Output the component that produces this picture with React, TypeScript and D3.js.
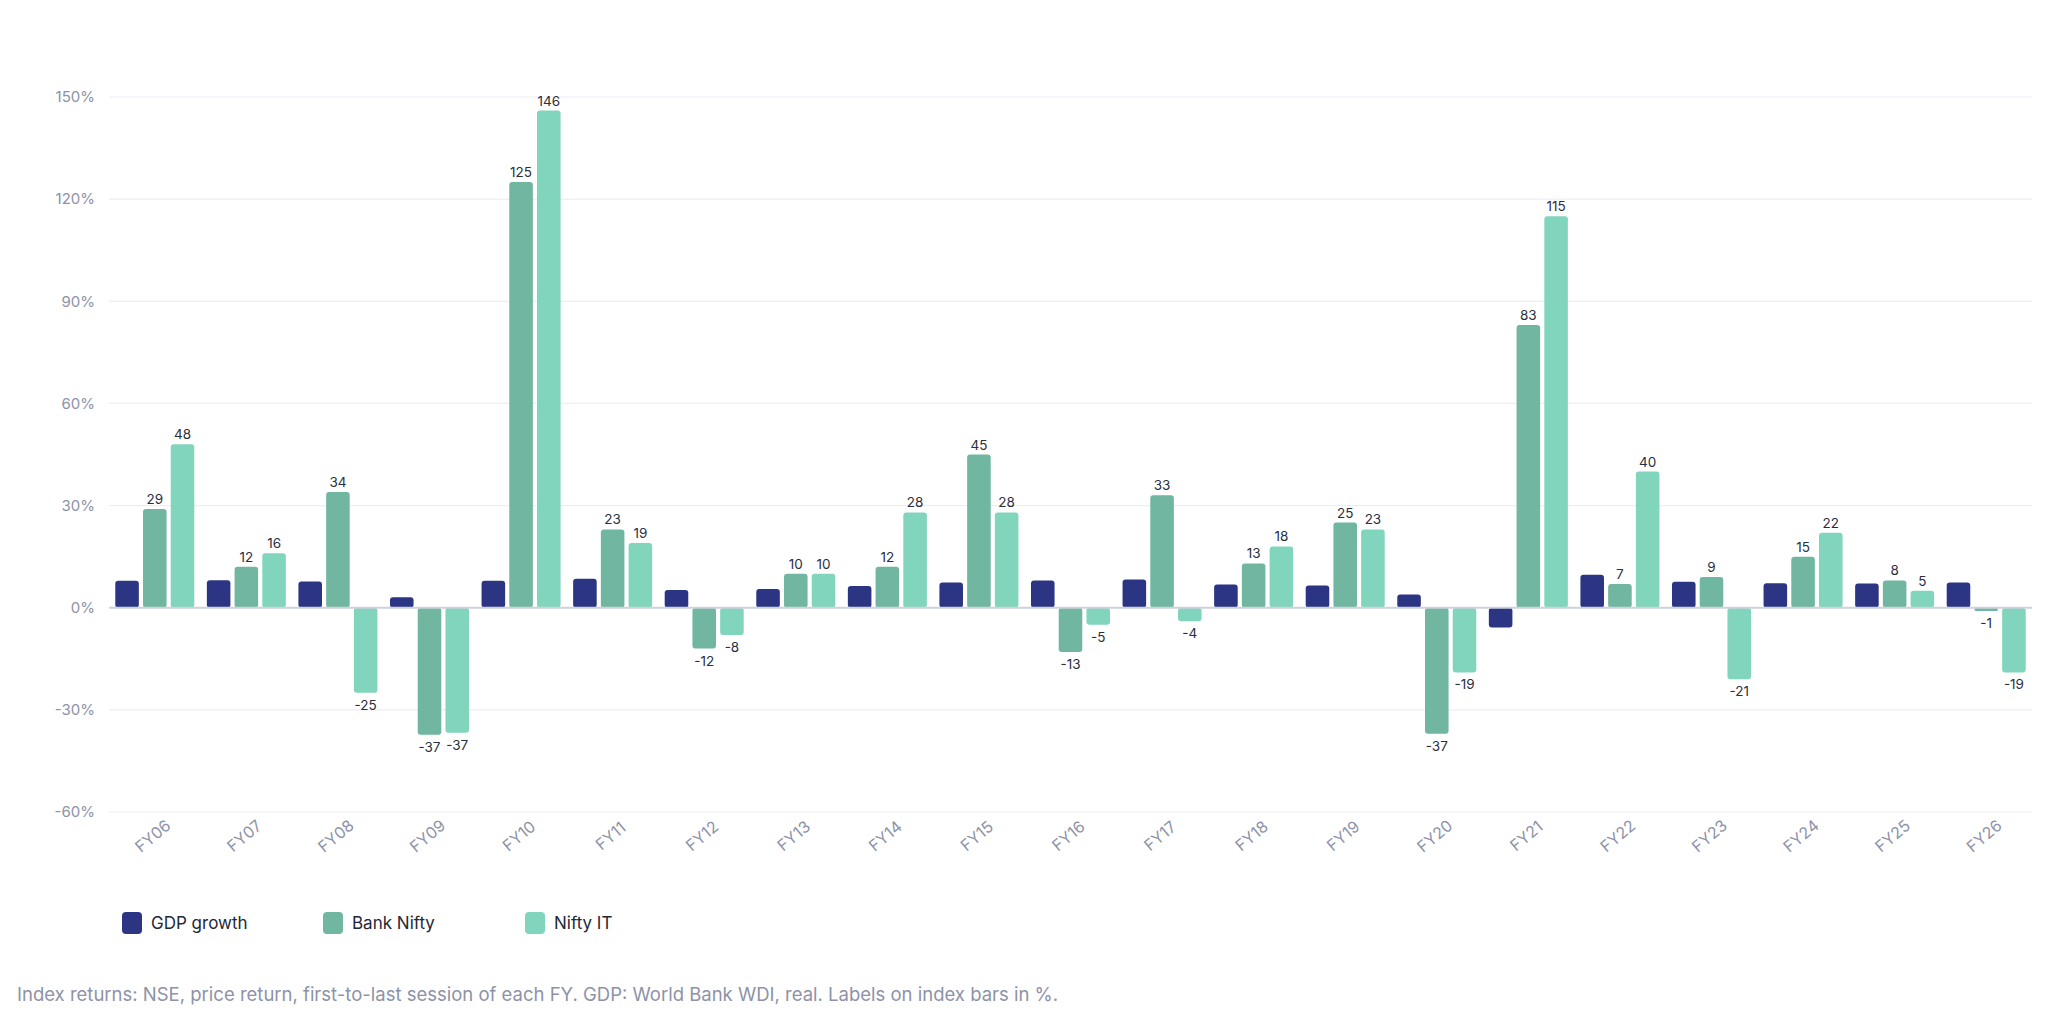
import React, { useRef, useEffect } from "react";
import * as d3 from "d3";

const years = [
  "FY06", "FY07", "FY08", "FY09", "FY10", "FY11", "FY12", "FY13", "FY14", "FY15", "FY16",
  "FY17", "FY18", "FY19", "FY20", "FY21", "FY22", "FY23", "FY24", "FY25", "FY26",
];
const gdpGrowth = [7.9, 8.1, 7.7, 3.1, 7.9, 8.5, 5.2, 5.5, 6.4, 7.4, 8.0, 8.3, 6.8, 6.5, 3.9, -5.8, 9.7, 7.6, 7.2, 7.1, 7.4];
const bankNifty = [29, 12, 34, -37.3, 125, 23, -12, 10, 12, 45, -13, 33, 13, 25, -37, 83, 7, 9, 15, 8, -1];
const niftyIT = [48, 16, -25, -36.7, 146, 19, -8, 10, 28, 28, -5, -4, 18, 23, -19, 115, 40, -21, 22, 5, -19];
const seriesNames = ["GDP growth", "Bank Nifty", "Nifty IT"];
const seriesColors = ["#2c3584", "#70b6a1", "#81d5bd"];
const yTicks = [-60, -30, 0, 30, 60, 90, 120, 150];
const note =
  "Index returns: NSE, price return, first-to-last session of each FY. GDP: World Bank WDI, real. Labels on index bars in %.";

const W = 2048;
const H = 1014;
const FONT = "Inter, 'Noto Sans', sans-serif";

const App = () => {
  const ref = useRef(null);

  useEffect(() => {
    const svg = d3.select(ref.current);
    svg.selectAll("*").remove();

    const left = 109;
    const right = 2032;
    const y = d3.scaleLinear().domain([-60, 150]).range([812, 97]);
    const x0 = d3.scaleBand().domain(years).range([left, right]).paddingInner(0.137).paddingOuter(0.0685);
    const x1 = d3.scaleBand().domain(seriesNames).range([0, x0.bandwidth()]).paddingInner(0.15);

    // grid
    svg
      .append("g")
      .selectAll("line")
      .data(yTicks.filter((t) => t !== 0))
      .join("line")
      .attr("x1", left)
      .attr("x2", right)
      .attr("y1", (d) => y(d))
      .attr("y2", (d) => y(d))
      .attr("stroke", "#eceef3")
      .attr("stroke-width", 1.2);

    svg
      .append("g")
      .selectAll("text")
      .data(yTicks)
      .join("text")
      .attr("x", 95)
      .attr("y", (d) => y(d))
      .attr("dy", "0.35em")
      .attr("text-anchor", "end")
      .attr("font-family", FONT)
      .attr("font-size", 15)
      .attr("fill", "#8d92a8")
      .text((d) => `${d}%`);

    const rows = years.map((yr, i) => ({
      yr,
      vals: [gdpGrowth[i], bankNifty[i], niftyIT[i]],
    }));

    const groups = svg
      .append("g")
      .selectAll("g")
      .data(rows)
      .join("g")
      .attr("transform", (d) => `translate(${x0(d.yr)},0)`);

    groups
      .selectAll("rect")
      .data((d) => d.vals.map((v, k) => ({ v, k })))
      .join("rect")
      .attr("x", (d) => x1(seriesNames[d.k]))
      .attr("width", x1.bandwidth())
      .attr("y", (d) => y(Math.max(0, d.v)))
      .attr("height", (d) => Math.abs(y(d.v) - y(0)))
      .attr("rx", 3)
      .attr("fill", (d) => seriesColors[d.k]);

    groups
      .selectAll("text")
      .data((d) => d.vals.map((v, k) => ({ v, k })).filter((d) => d.k > 0))
      .join("text")
      .attr("x", (d) => x1(seriesNames[d.k]) + x1.bandwidth() / 2)
      .attr("y", (d) => (d.v >= 0 ? y(d.v) - 5 : y(d.v) + 17))
      .attr("text-anchor", "middle")
      .attr("font-family", FONT)
      .attr("font-size", 13.5)
      .attr("fill", "#2a2f3d")
      .text((d) => Math.round(d.v));

    // zero line
    svg
      .append("line")
      .attr("x1", left)
      .attr("x2", right)
      .attr("y1", y(0))
      .attr("y2", y(0))
      .attr("stroke", "#cfd2dd")
      .attr("stroke-width", 2);

    // x labels
    svg
      .append("g")
      .selectAll("text")
      .data(years)
      .join("text")
      .attr(
        "transform",
        (d) => `translate(${x0(d) + x0.bandwidth() / 2 - 2},836) rotate(-40)`
      )
      .attr("text-anchor", "middle")
      .attr("dy", "0.35em")
      .attr("font-family", FONT)
      .attr("font-size", 16)
      .attr("fill", "#8d92a8")
      .text((d) => d);

    // legend
    const legendX = [122, 323, 525];
    const legend = svg
      .append("g")
      .selectAll("g")
      .data(seriesNames)
      .join("g")
      .attr("transform", (d, i) => `translate(${legendX[i]},912)`);
    legend
      .append("rect")
      .attr("width", 20)
      .attr("height", 22)
      .attr("rx", 4)
      .attr("fill", (d, i) => seriesColors[i]);
    legend
      .append("text")
      .attr("x", 29)
      .attr("y", 11)
      .attr("dy", "0.35em")
      .attr("font-family", FONT)
      .attr("font-size", 17)
      .attr("fill", "#232838")
      .text((d) => d);

    svg
      .append("text")
      .attr("x", 17)
      .attr("y", 995)
      .attr("dy", "0.35em")
      .attr("font-family", FONT)
      .attr("font-size", 18.5)
      .attr("fill", "#8d92a8")
      .text(note);
  }, []);

  return (
    <svg
      ref={ref}
      width={W}
      height={H}
      style={{ position: "absolute", left: 0, top: 0, background: "#ffffff" }}
    />
  );
};

export default App;
